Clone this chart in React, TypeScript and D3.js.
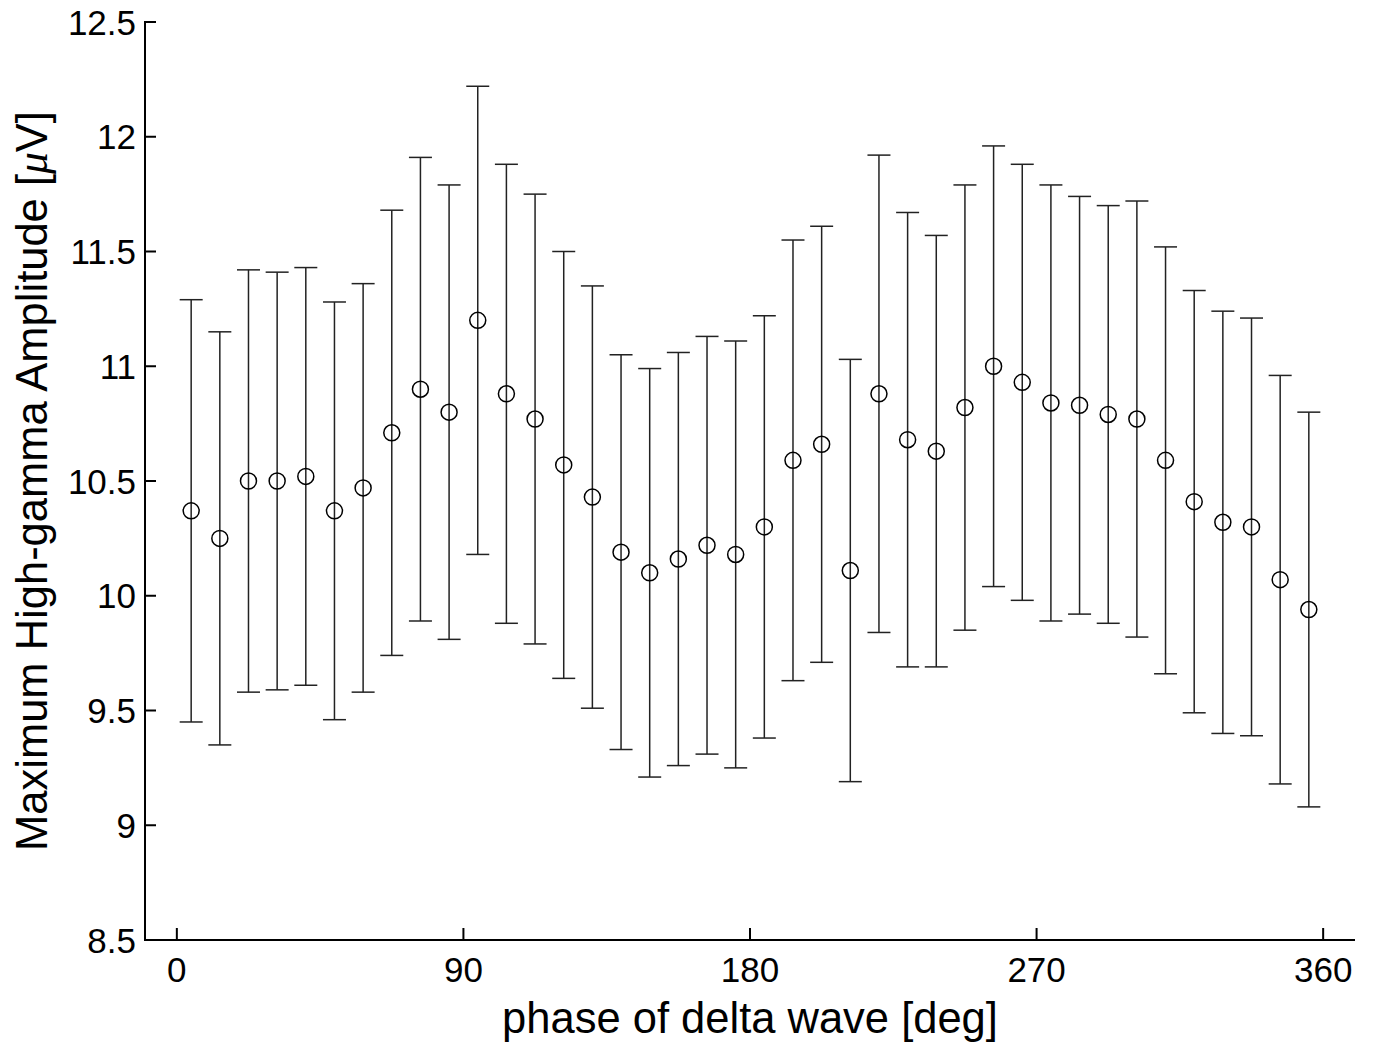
import React from "react";
import * as d3 from "d3";

// phase bin centres [deg]
const phase = [
  4.5, 13.5, 22.5, 31.5, 40.5, 49.5, 58.5, 67.5, 76.5, 85.5,
  94.5, 103.5, 112.5, 121.5, 130.5, 139.5, 148.5, 157.5, 166.5, 175.5,
  184.5, 193.5, 202.5, 211.5, 220.5, 229.5, 238.5, 247.5, 256.5, 265.5,
  274.5, 283.5, 292.5, 301.5, 310.5, 319.5, 328.5, 337.5, 346.5, 355.5
];

// mean amplitude [uV]
const amp = [
  10.37, 10.25, 10.5, 10.5, 10.52, 10.37, 10.47, 10.71, 10.9, 10.8,
  11.2, 10.88, 10.77, 10.57, 10.43, 10.19, 10.1, 10.16, 10.22, 10.18,
  10.3, 10.59, 10.66, 10.11, 10.88, 10.68, 10.63, 10.82, 11.0, 10.93,
  10.84, 10.83, 10.79, 10.77, 10.59, 10.41, 10.32, 10.3, 10.07, 9.94
];

// half length of the error bars
const err = [
  0.92, 0.9, 0.92, 0.91, 0.91, 0.91, 0.89, 0.97, 1.01, 0.99,
  1.02, 1.0, 0.98, 0.93, 0.92, 0.86, 0.89, 0.9, 0.91, 0.93,
  0.92, 0.96, 0.95, 0.92, 1.04, 0.99, 0.94, 0.97, 0.96, 0.95,
  0.95, 0.91, 0.91, 0.95, 0.93, 0.92, 0.92, 0.91, 0.89, 0.86
];

const xTicks = [0, 90, 180, 270, 360];
const yTicks = [8.5, 9, 9.5, 10, 10.5, 11, 11.5, 12, 12.5];

const W = 1376;
const H = 1046;
const margin = { top: 22, right: 21, bottom: 106, left: 145 };

const font = "Arial, 'Liberation Sans', Helvetica, sans-serif";

export default function App() {
  const x = d3
    .scaleLinear()
    .domain([-10, 370])
    .range([margin.left, W - margin.right]);
  const y = d3
    .scaleLinear()
    .domain([8.5, 12.5])
    .range([H - margin.bottom, margin.top]);

  const x0 = margin.left;
  const y0 = H - margin.bottom;
  const capW = 11.5;

  return (
    <svg
      width={W}
      height={H}
      style={{ position: "absolute", left: 0, top: 0, background: "#fff" }}
      fontFamily={font}
    >
      <rect width={W} height={H} fill="#fff" />

      {/* error bars + markers */}
      <g stroke="#222" strokeWidth={1.5} fill="none">
        {phase.map((p, i) => {
          const cx = x(p);
          const top = y(amp[i] + err[i]);
          const bot = y(amp[i] - err[i]);
          return (
            <g key={i}>
              <line x1={cx} x2={cx} y1={top} y2={bot} />
              <line x1={cx - capW} x2={cx + capW} y1={top} y2={top} />
              <line x1={cx - capW} x2={cx + capW} y1={bot} y2={bot} />
              <circle cx={cx} cy={y(amp[i])} r={8} stroke="#000" />
            </g>
          );
        })}
      </g>

      {/* axes */}
      <g stroke="#000" strokeWidth={2} fill="none">
        <line x1={x0} x2={x0} y1={margin.top - 1} y2={y0 + 1} />
        <line x1={x0 - 1} x2={W - margin.right} y1={y0} y2={y0} />
        {yTicks.map((t) => (
          <line key={t} x1={x0} x2={x0 + 11} y1={y(t)} y2={y(t)} />
        ))}
        {xTicks.map((t) => (
          <line key={t} x1={x(t)} x2={x(t)} y1={y0} y2={y0 - 12} />
        ))}
      </g>

      <g fontSize={35} fill="#000">
        {yTicks.map((t) => (
          <text key={t} x={x0 - 9} y={y(t) + 12.5} textAnchor="end">
            {String(t)}
          </text>
        ))}
        {xTicks.map((t) => (
          <text key={t} x={x(t)} y={y0 + 42} textAnchor="middle">
            {t}
          </text>
        ))}
      </g>

      <text x={750} y={1033} fontSize={43.5} textAnchor="middle" fill="#000">
        phase of delta wave [deg]
      </text>
      <text
        transform={`translate(47,${(margin.top + y0) / 2}) rotate(-90)`}
        fontSize={43.5}
        textAnchor="middle"
        fill="#000"
      >
        Maximum High-gamma Amplitude [
        <tspan fontFamily="'Liberation Serif', 'DejaVu Serif', serif" fontStyle="italic">μ</tspan>
        V]
      </text>
    </svg>
  );
}
